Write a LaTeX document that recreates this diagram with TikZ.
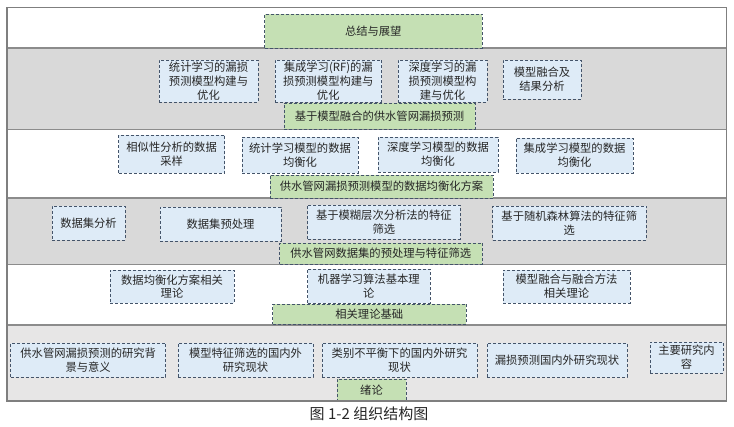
\documentclass[tikz,border=0pt]{standalone}
\usepackage{fontspec}
\usepackage{xcolor}
\usepackage{tikz}
\usetikzlibrary{positioning}
\newfontfamily\cjk{Noto Sans CJK SC}

\definecolor{bandgray}{HTML}{D9D9D9}
\definecolor{bandlight}{HTML}{E7E6E6}
\definecolor{sepgray}{HTML}{8C8C8C}
\definecolor{framegray}{HTML}{7F7F7F}
\definecolor{itemfill}{HTML}{DEEBF7}
\definecolor{titlefill}{HTML}{C5E0B4}
\definecolor{boxline}{HTML}{44546A}
\definecolor{textgray}{HTML}{262626}

\begin{document}
\begin{tikzpicture}[
    x=1pt, y=-1pt,
    item/.style={rectangle, draw=boxline, fill=itemfill, densely dashed, line width=0.6pt, inner sep=0.5pt, outer sep=0pt, align=center, text=textgray, font=\cjk\fontsize{11.3}{13.8}\selectfont},
    title/.style={item, fill=titlefill},
    sep/.style={draw=sepgray, line width=1.5pt}
]
    \useasboundingbox (0,0) rectangle (734,427);

    % Bands
    \fill[bandgray]  (7,48)    rectangle (726.5,129.5);
    \fill[bandgray]  (7,198)   rectangle (726.5,264.5);
    \fill[bandlight] (7,325)   rectangle (726.5,401);
    \draw[sep] (7,48)    -- (726.5,48);
    \draw[sep] (7,129.5) -- (726.5,129.5);
    \draw[sep] (7,198)   -- (726.5,198);
    \draw[sep] (7,264.5) -- (726.5,264.5);
    \draw[sep] (7,325)   -- (726.5,325);

    % Layout
    \node[title, minimum width=217.5, minimum height=34] (summary) at (373.25,31) {总结与展望};

    \node[item, minimum width=99, minimum height=42] (statModel) at (208.5,81) {统计学习的漏损\\预测模型构建与\\优化};
    \node[item, minimum width=106.5, minimum height=42] (rfModel) at (328.25,81) {集成学习(RF)的漏\\损预测模型构建与\\优化};
    \node[item, minimum width=89, minimum height=42] (deepModel) at (442.5,81) {深度学习的漏\\损预测模型构\\建与优化};
    \node[item, minimum width=78, minimum height=39] (fusion) at (542,79.5) {模型融合及\\结果分析};
    \node[title, minimum width=191, minimum height=26] (fusionTitle) at (379.5,116) {基于模型融合的供水管网漏损预测};

    \node[item, minimum width=106, minimum height=38] (sampling) at (171.6,154) {相似性分析的数据\\采样};
    \node[item, minimum width=116, minimum height=36] (statBal) at (300,155) {统计学习模型的数据\\均衡化};
    \node[item, minimum width=120, minimum height=35] (deepBal) at (438,154.5) {深度学习模型的数据\\均衡化};
    \node[item, minimum width=117, minimum height=35] (ensBal) at (574.5,155.5) {集成学习模型的数据\\均衡化};
    \node[title, minimum width=223, minimum height=23] (balTitle) at (381.5,186.5) {供水管网漏损预测模型的数据均衡化方案};

    \node[item, minimum width=73, minimum height=34] (dataAna) at (88.5,223) {数据集分析};
    \node[item, minimum width=121, minimum height=34] (dataPre) at (220.5,224) {数据集预处理};
    \node[item, minimum width=152.4, minimum height=34] (ahpSel) at (383.8,222) {基于模糊层次分析法的特征\\筛选};
    \node[item, minimum width=153.5, minimum height=34] (rfSel) at (569.25,223) {基于随机森林算法的特征筛\\选};
    \node[title, minimum width=202.5, minimum height=21] (preTitle) at (380.75,253.5) {供水管网数据集的预处理与特征筛选};

    \node[item, minimum width=124, minimum height=33] (balTheory) at (172,286.5) {数据均衡化方案相关\\理论};
    \node[item, minimum width=122.4, minimum height=34] (mlTheory) at (368.8,286) {机器学习算法基本理\\论};
    \node[item, minimum width=127, minimum height=33] (fusionTheory) at (566.5,286.5) {模型融合与融合方法\\相关理论};
    \node[title, minimum width=193.5, minimum height=20] (theoryTitle) at (369.25,314) {相关理论基础};

    \node[item, minimum width=155, minimum height=34] (background) at (88.2,360) {供水管网漏损预测的研究背\\景与意义};
    \node[item, minimum width=135, minimum height=34] (featReview) at (245.5,360) {模型特征筛选的国内外\\研究现状};
    \node[item, minimum width=155, minimum height=34] (imbReview) at (399.5,360) {类别不平衡下的国内外研究\\现状};
    \node[item, minimum width=140, minimum height=34] (leakReview) at (557,360) {漏损预测国内外研究现状};
    \node[item, minimum width=73, minimum height=31] (content) at (686.5,357.5) {主要研究内\\容};
    \node[title, minimum width=69, minimum height=22] (intro) at (371.5,390) {绪论};

    % Frame and caption
    \draw[framegray, line width=1.5pt] (7,7.5) rectangle (726.5,401);
    \node[font=\cjk\fontsize{15}{17}\selectfont, text=textgray] (caption) at (369,414) {图 1-2 组织结构图};
\end{tikzpicture}
\end{document}
